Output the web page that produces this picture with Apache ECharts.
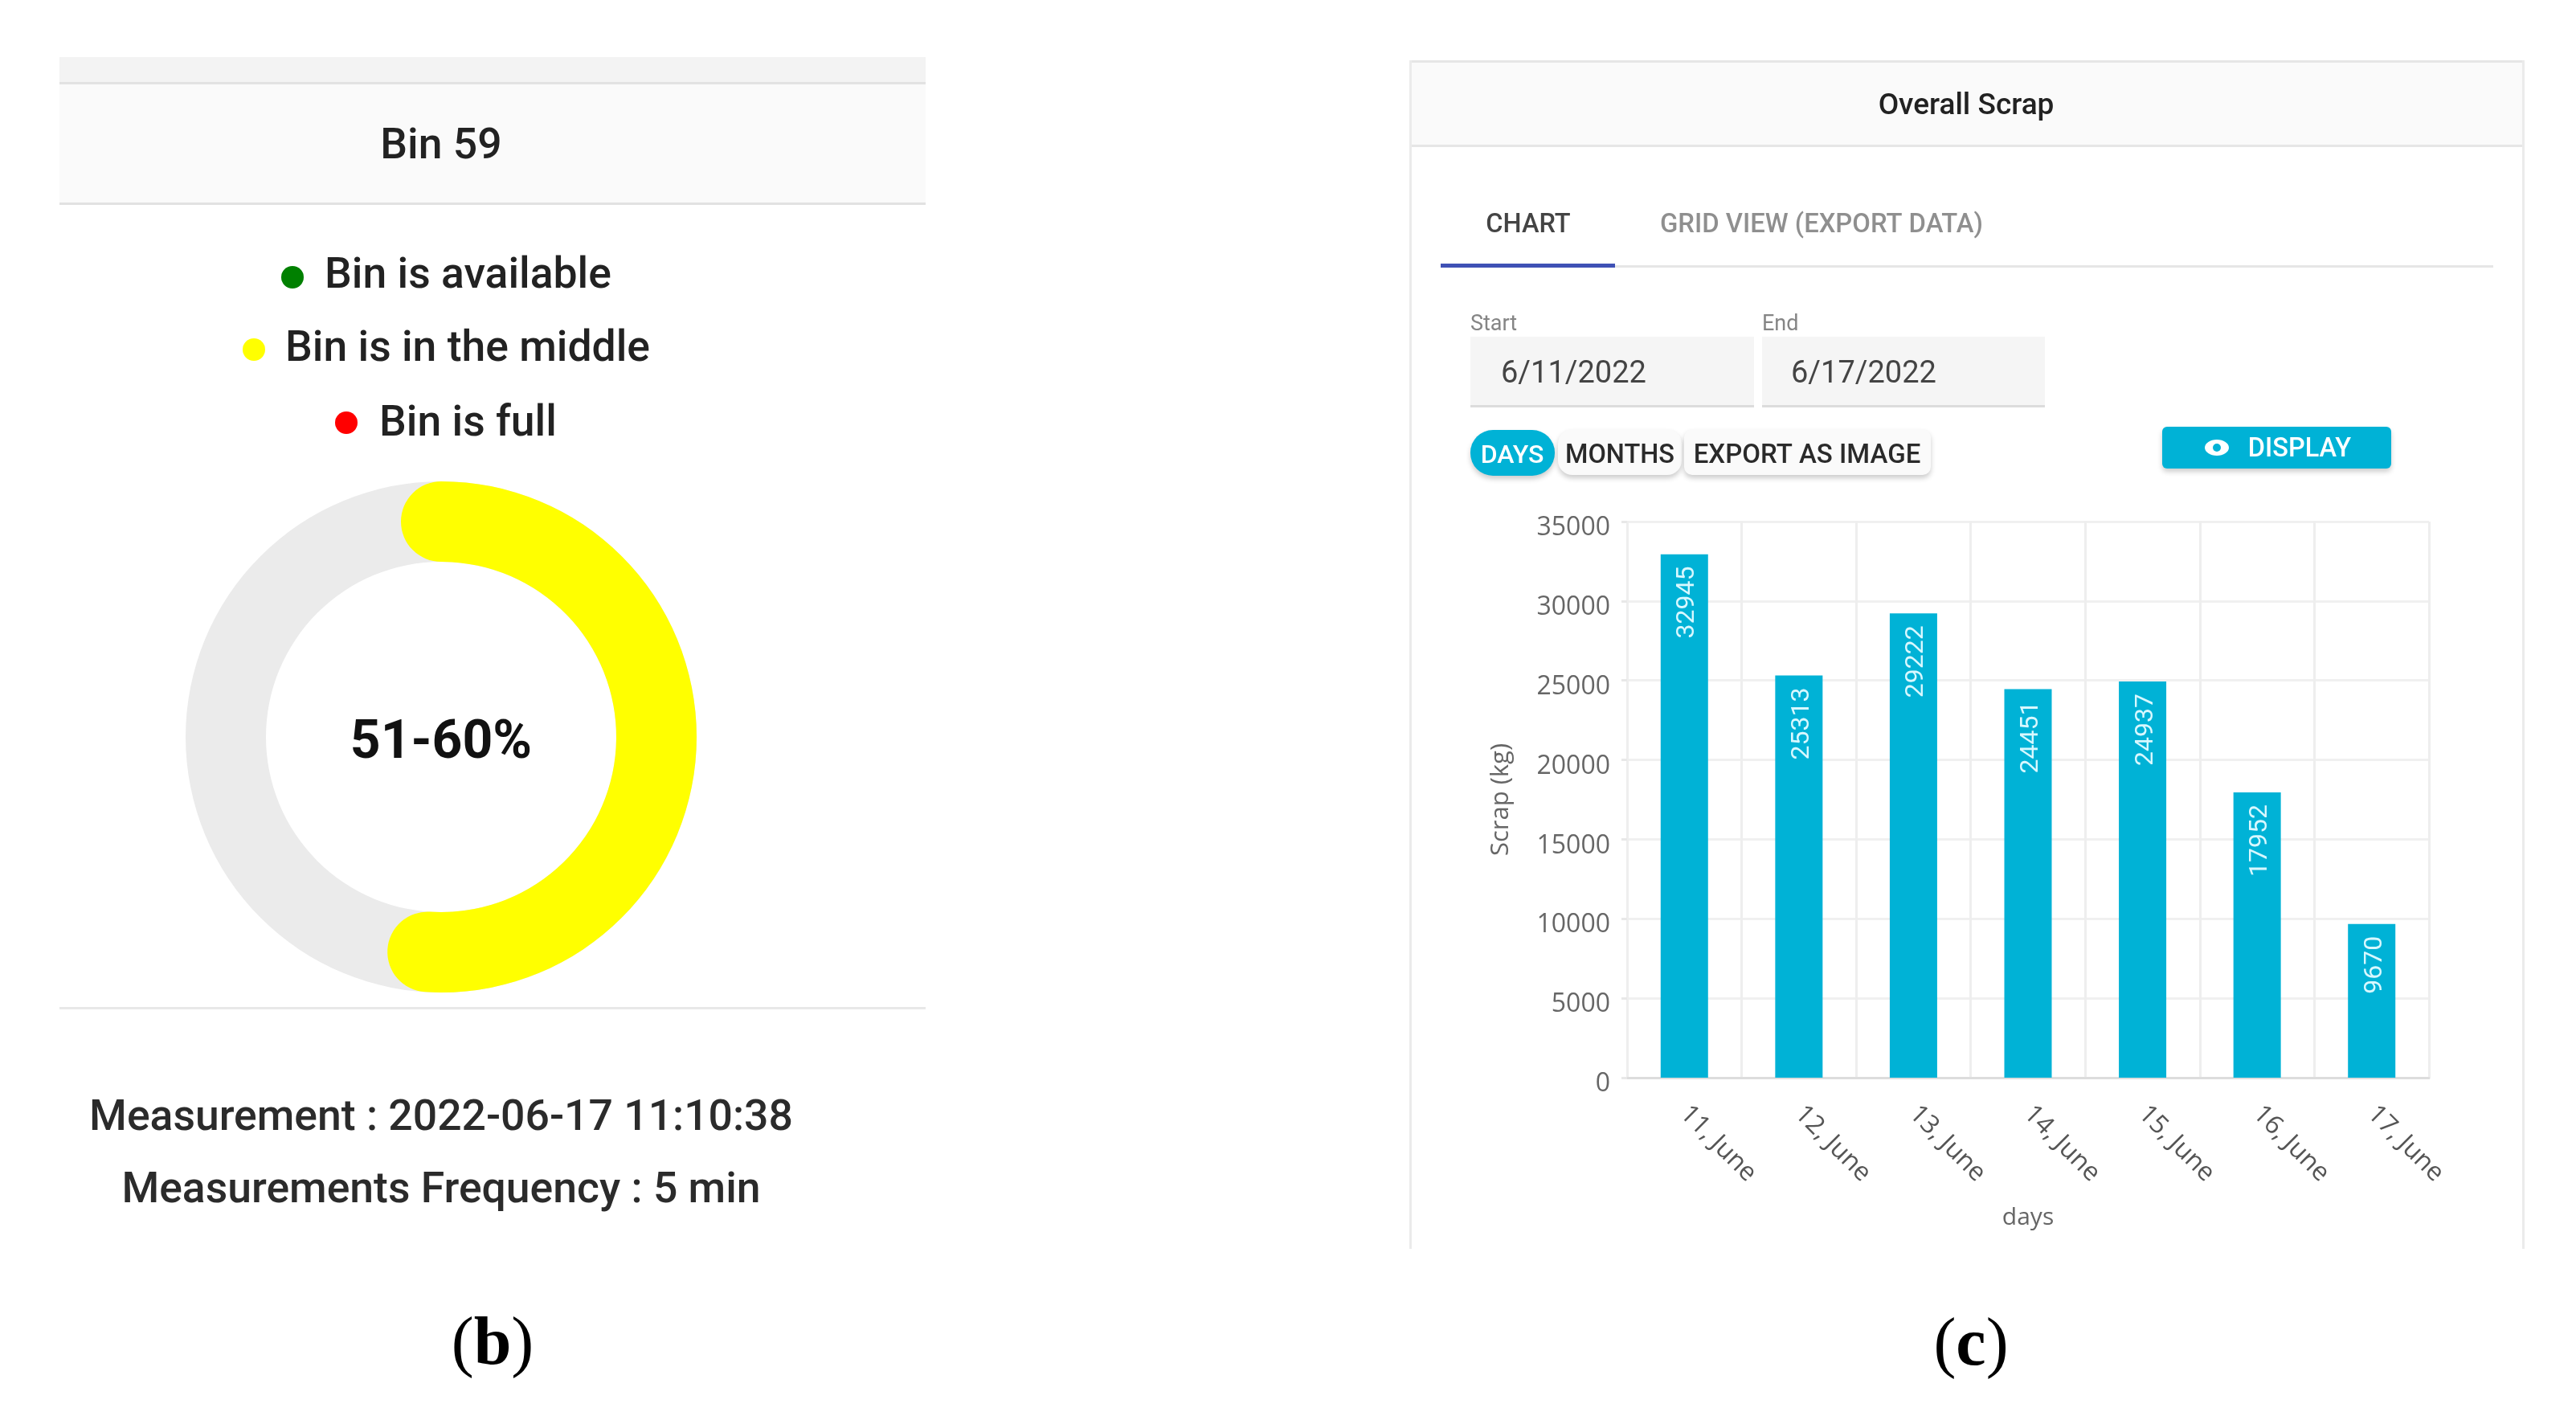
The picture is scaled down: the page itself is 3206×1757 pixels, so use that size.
<!DOCTYPE html>
<html>
<head>
<meta charset="utf-8">
<title>Bin 59 / Overall Scrap</title>
<script src="https://cdn.jsdelivr.net/npm/echarts@6/dist/echarts.min.js"></script>
<style>
  html, body { margin: 0; padding: 0; background: #fff; }
  #chart-container { width: 3206px; height: 1757px; }
</style>
</head>
<body>
<div id="chart-container"></div>
<script>
// panel (c) data
const days = ['11, June', '12, June', '13, June', '14, June', '15, June', '16, June', '17, June'];
const scrap = [32945, 25313, 29222, 24451, 24937, 17952, 9670];
const scrapMax = 35000;
const scrapStep = 5000;

// panel (b) data
const binFill = 51;
const binFillLabel = '51-60%';
const binTitle = 'Bin 59';
const legendLabels = ['Bin is available', 'Bin is in the middle', 'Bin is full'];
const legendColors = ['#008000', '#ffff00', '#ff0000'];
const infoLines = ['Measurement : 2022-06-17 11:10:38', 'Measurements Frequency : 5 min'];

const UI = 'Roboto, sans-serif';
const AXIS = '"Open Sans", sans-serif';
const CYAN = '#00b2d6';

function text(str, x, y, size, fill, opts) {
  opts = opts || {};
  return {
    type: 'text',
    x: x,
    y: y + 5,
    z: opts.z || 5,
    rotation: opts.rotation || 0,
    style: {
      text: str,
      fill: fill,
      font: (opts.weight || 400) + ' ' + size + 'px ' + (opts.family || UI),
      align: opts.align || 'center',
      verticalAlign: 'middle'
    }
  };
}

function box(x, y, w, h, fill, opts) {
  opts = opts || {};
  return {
    type: 'rect',
    z: opts.z || 1,
    shape: { x: x, y: y, width: w, height: h, r: opts.r || 0 },
    style: {
      fill: fill,
      shadowBlur: opts.blur || 0,
      shadowOffsetY: opts.blur ? 4 : 0,
      shadowColor: opts.blur ? 'rgba(0,0,0,0.2)' : 'transparent'
    }
  };
}

function figureTag(letter, x, y) {
  return {
    type: 'text',
    x: x,
    y: y,
    z: 5,
    style: {
      text: '{p|(}{b|' + letter + '}{p|)}',
      align: 'center',
      verticalAlign: 'middle',
      rich: {
        p: { font: '400 84px "Liberation Serif", serif', fill: '#000' },
        b: { font: '700 84px "Liberation Serif", serif', fill: '#000' }
      }
    }
  };
}

const legendRows = [
  { textX: 404, textY: 340, dotX: 364, dotY: 345 },
  { textX: 355, textY: 431, dotX: 316, dotY: 435 },
  { textX: 472, textY: 524, dotX: 431, dotY: 526 }
];

const graphics = [
  // panel (b) header bands
  box(74, 71, 1078, 31, '#f3f3f3'),
  box(74, 102, 1078, 3, '#e2e2e2'),
  box(74, 105, 1078, 147, '#fafafa'),
  box(74, 252, 1078, 3, '#e2e2e2'),
  box(74, 1253, 1078, 3, '#e8e8e8'),
  text(binTitle, 549, 179, 53.5, '#222222', { weight: 500 }),

  // panel (c) card
  box(1754, 75, 1388, 3, '#e6e6e6'),
  box(1754, 75, 3, 1479, '#ebebeb'),
  box(3139, 75, 3, 1479, '#ebebeb'),
  box(1757, 78, 1382, 102, '#fafafa'),
  box(1757, 180, 1382, 3, '#e6e6e6'),
  text('Overall Scrap', 2447, 128, 37, '#222222', { weight: 500 }),

  // tabs
  text('CHART', 1902, 276, 32.5, '#444444', { weight: 500 }),
  text('GRID VIEW (EXPORT DATA)', 2267, 276, 32.8, '#8f8f8f', { weight: 500 }),
  box(1793, 330, 1310, 3, '#e6e6e6'),
  box(1793, 328, 217, 5, '#3f51b5', { z: 2 }),

  // date fields
  text('Start', 1830, 399, 27, '#858585', { align: 'left' }),
  text('End', 2193, 399, 27, '#858585', { align: 'left' }),
  box(1830, 419, 353, 87, '#f5f5f5'),
  box(2193, 419, 352, 87, '#f5f5f5'),
  box(1830, 504, 353, 3, '#dcdcdc', { z: 2 }),
  box(2193, 504, 352, 3, '#dcdcdc', { z: 2 }),
  text('6/11/2022', 1868, 461, 38, '#444444', { align: 'left' }),
  text('6/17/2022', 2229, 461, 38, '#444444', { align: 'left' }),

  // buttons
  box(1830, 535, 105, 57, CYAN, { r: 28, blur: 6 }),
  box(1939, 534, 154, 57, '#fafafa', { r: 18, blur: 6 }),
  box(2096, 534, 307, 57, '#fafafa', { r: 10, blur: 6 }),
  text('DAYS', 1882, 563, 32, '#ffffff', { weight: 500 }),
  text('MONTHS', 2016, 563, 32.5, '#2a2a2a', { weight: 500 }),
  text('EXPORT AS IMAGE', 2249, 563, 33, '#2a2a2a', { weight: 500 }),
  box(2691, 531, 285, 52, CYAN, { r: 6, blur: 6 }),
  { type: 'ellipse', z: 4, shape: { cx: 2759, cy: 557, rx: 15, ry: 10 }, style: { fill: '#ffffff' } },
  { type: 'circle', z: 5, shape: { cx: 2759, cy: 557, r: 5 }, style: { fill: CYAN } },
  text('DISPLAY', 2862, 555, 32.5, '#ffffff', { weight: 500 }),

  figureTag('b', 613, 1675),
  figureTag('c', 2453, 1676)
];

legendLabels.forEach(function (label, i) {
  const row = legendRows[i];
  graphics.push(text(label, row.textX, row.textY, 53.5, '#222222', { align: 'left', weight: 500 }));
  graphics.push({
    type: 'circle',
    z: 5,
    shape: { cx: row.dotX, cy: row.dotY, r: 14 },
    style: { fill: legendColors[i] }
  });
});

graphics.push(text(infoLines[0], 549, 1388, 53.5, '#2b2b2b', { weight: 500 }));
graphics.push(text(infoLines[1], 549, 1478, 53.5, '#2b2b2b', { weight: 500 }));

const myChart = echarts.init(document.getElementById('chart-container'), null, { renderer: 'canvas' });

myChart.setOption({
  animation: false,
  backgroundColor: '#ffffff',
  graphic: { elements: graphics },
  grid: { left: 2025, top: 649, width: 998, height: 692, containLabel: false },
  xAxis: {
    type: 'category',
    data: days,
    name: 'days',
    nameLocation: 'middle',
    nameGap: 159,
    nameTextStyle: { color: '#666666', fontFamily: AXIS, fontSize: 30 },
    axisLine: { lineStyle: { color: '#dddddd', width: 3 } },
    axisTick: { length: 9, lineStyle: { color: '#e8e8e8', width: 3 } },
    axisLabel: { rotate: -45, margin: 40, color: '#555555', fontFamily: AXIS, fontSize: 32, interval: 0 },
    splitLine: { show: true, lineStyle: { color: '#eeeeee', width: 3 } }
  },
  yAxis: {
    type: 'value',
    min: 0,
    max: scrapMax,
    interval: scrapStep,
    name: 'Scrap (kg)',
    nameLocation: 'middle',
    nameGap: 141,
    nameTextStyle: { color: '#666666', fontFamily: AXIS, fontSize: 31 },
    axisLine: { show: false },
    axisTick: { show: true, length: 7, lineStyle: { color: '#e8e8e8', width: 3 } },
    axisLabel: {
      margin: 21,
      verticalAlign: 'top',
      lineHeight: 16, // nudges the labels down onto their grid lines
      color: '#666666',
      fontFamily: AXIS,
      fontSize: 32,
      formatter: function (v) { return String(v); }
    },
    splitLine: { show: true, lineStyle: { color: '#f0f0f0', width: 3 } }
  },
  series: [
    {
      type: 'bar',
      data: scrap,
      barWidth: 59,
      itemStyle: { color: CYAN },
      label: {
        show: true,
        position: 'insideTop',
        distance: 14,
        offset: [-1, 4],
        rotate: 90,
        align: 'right',
        verticalAlign: 'middle',
        color: '#d8f8ff',
        fontFamily: UI,
        fontSize: 32
      }
    },
    {
      type: 'gauge',
      center: [549, 917],
      radius: 318,
      startAngle: 90,
      endAngle: -270,
      min: 0,
      max: 100,
      pointer: { show: false },
      axisTick: { show: false },
      splitLine: { show: false },
      axisLabel: { show: false },
      axisLine: { lineStyle: { width: 100, color: [[1, '#ebebeb']] } },
      progress: { show: true, width: 100, roundCap: true, itemStyle: { color: '#ffff00' } },
      title: { show: false },
      detail: {
        valueAnimation: false,
        offsetCenter: [0, 9],
        formatter: function () { return binFillLabel; },
        color: '#111111',
        fontFamily: UI,
        fontWeight: 700,
        fontSize: 66
      },
      data: [{ value: binFill }]
    }
  ]
});

window.addEventListener('resize', function () {
  myChart.resize();
});
</script>
</body>
</html>
